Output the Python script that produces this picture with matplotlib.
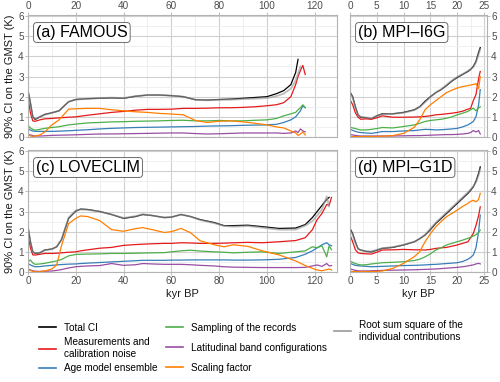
import numpy as np
import matplotlib
matplotlib.use('Agg')
import matplotlib.pyplot as plt
from matplotlib.lines import Line2D
from matplotlib.ticker import MultipleLocator

plt.rcParams['font.family'] = ['Liberation Sans', 'DejaVu Sans']

nan = np.nan

# series names and colours (legend order)
labels = ['Total CI', 'Measurements and\ncalibration noise', 'Age model ensemble',
          'Sampling of the records', 'Latitudinal band configurations', 'Scaling factor',
          'Root sum square of the\nindividual contributions']
colors = ['black', '#E41A1C', '#377EB8', '#4DAF4A', '#984EA3', '#FF7F00', '#999999']

# (a) FAMOUS
fam_x = [0, 1, 2, 3, 5, 7, 10, 13, 17, 20, 25, 30, 35, 40, 45, 50, 55, 60, 65, 70, 75, 80, 85, 90,
         95, 100, 104, 107, 110, 112, 113, 114, 115, 116]
fam_total = [2.3, 1.7, 1.0, 0.87, 1.0, 1.12, 1.2, 1.3, 1.75, 1.86, 1.9, 1.92, 1.94, 1.92, 2.02, 2.08, 2.08,
             2.05, 2.0, 1.85, 1.83, 1.86, 1.88, 1.92, 1.96, 2.0, 2.15, 2.3, 2.6, 3.2, 3.85, nan, nan, nan]
fam_meas = [1.95, 1.2, 0.8, 0.78, 0.85, 0.9, 0.92, 0.95, 0.98, 1.0, 1.08, 1.15, 1.22, 1.27, 1.33, 1.37, 1.37,
            1.38, 1.42, 1.42, 1.43, 1.45, 1.45, 1.47, 1.5, 1.55, 1.6, 1.7, 2.0, 2.6, 3.0, 3.3, 3.55, 3.1]
fam_age = [0.42, 0.34, 0.3, 0.28, 0.28, 0.28, 0.28, 0.29, 0.31, 0.33, 0.36, 0.4, 0.43, 0.45, 0.47, 0.48, 0.49,
           0.5, 0.51, 0.52, 0.54, 0.55, 0.56, 0.58, 0.59, 0.6, 0.63, 0.72, 0.85, 1.0, 1.15, 1.3, 1.55, 1.45]
fam_samp = [0.58, 0.45, 0.38, 0.34, 0.38, 0.43, 0.47, 0.51, 0.6, 0.64, 0.7, 0.72, 0.75, 0.76, 0.78, 0.79, 0.8,
            0.82, 0.83, 0.8, 0.8, 0.82, 0.8, 0.8, 0.83, 0.85, 0.92, 1.05, 1.15, 1.22, 1.35, 1.45, 1.6, 1.45]
fam_lat = [0.14, 0.1, 0.07, 0.05, 0.05, 0.06, 0.08, 0.09, 0.1, 0.11, 0.13, 0.15, 0.15, 0.16, 0.17, 0.18, 0.19,
           0.2, 0.2, 0.17, 0.15, 0.16, 0.18, 0.2, 0.2, 0.2, 0.2, 0.18, 0.2, 0.3, 0.22, 0.4, 0.3, 0.25]
fam_scal = [0.15, 0.05, 0.03, 0.05, 0.1, 0.25, 0.6, 0.85, 1.38, 1.4, 1.42, 1.42, 1.35, 1.3, 1.25, 1.22, 1.17,
            1.14, 1.1, 0.82, 0.72, 0.78, 0.8, 0.75, 0.68, 0.6, 0.5, 0.45, 0.3, 0.2, 0.08, 0.15, 0.25, 0.1]
fam_rss = [2.25, 1.65, 1.0, 0.9, 1.0, 1.1, 1.2, 1.3, 1.75, 1.85, 1.9, 1.93, 1.95, 1.93, 2.03, 2.08, 2.08,
           2.05, 2.0, 1.85, 1.82, 1.84, 1.85, 1.88, 1.9, 1.93, 2.03, 2.15, 2.4, 2.8, 3.15, 3.5, nan, nan]

# (c) LOVECLIM
lov_x = [0, 1, 2, 3, 5, 7, 10, 12, 14, 17, 20, 22, 25, 30, 35, 40, 45, 48, 52, 57, 60, 64, 68, 72, 78, 82,
         86, 92, 98, 105, 112, 116, 119, 121, 123, 125, 126, 127]
lov_total = [2.24, 1.5, 1.0, 0.92, 0.95, 1.09, 1.14, 1.25, 1.6, 2.66, 3.02, 3.12, 3.1, 3.0, 2.85, 2.66, 2.75,
             2.85, 2.8, 2.7, 2.72, 2.85, 2.75, 2.6, 2.45, 2.3, 2.3, 2.32, 2.25, 2.16, 2.18, 2.35, 2.7, 3.0,
             3.3, 3.6, 3.7, nan]
lov_meas = [1.85, 1.2, 0.85, 0.84, 0.88, 0.92, 0.92, 0.93, 0.95, 0.98, 1.0, 1.05, 1.1, 1.18, 1.22, 1.32, 1.36,
            1.38, 1.4, 1.42, 1.42, 1.45, 1.44, 1.42, 1.42, 1.43, 1.45, 1.47, 1.45, 1.5, 1.56, 1.7, 2.1, 2.6,
            2.9, 3.35, 3.3, 3.7]
lov_age = [0.42, 0.35, 0.3, 0.26, 0.27, 0.3, 0.33, 0.35, 0.37, 0.39, 0.4, 0.42, 0.44, 0.47, 0.5, 0.53, 0.56,
           0.58, 0.58, 0.58, 0.59, 0.59, 0.6, 0.6, 0.6, 0.6, 0.59, 0.59, 0.6, 0.63, 0.72, 0.88, 1.05, 1.2,
           1.35, 1.45, 1.35, 1.3]
lov_samp = [0.5, 0.6, 0.45, 0.38, 0.4, 0.43, 0.5, 0.55, 0.62, 0.8, 0.87, 0.88, 0.89, 0.9, 0.92, 0.92, 0.93,
            0.94, 0.95, 0.96, 1.0, 1.05, 1.08, 1.04, 1.0, 0.98, 0.95, 0.98, 1.0, 0.92, 1.0, 1.05, 1.25, 1.2,
            1.3, 0.75, 1.3, 1.1]
lov_lat = [0.15, 0.1, 0.06, 0.04, 0.03, 0.04, 0.05, 0.08, 0.12, 0.2, 0.26, 0.28, 0.3, 0.32, 0.42, 0.33, 0.36,
           0.42, 0.4, 0.38, 0.38, 0.38, 0.36, 0.33, 0.3, 0.26, 0.24, 0.23, 0.22, 0.22, 0.22, 0.23, 0.3, 0.35,
           0.28, 0.42, 0.3, 0.32]
lov_scal = [0.12, 0.08, 0.03, 0.0, 0.02, 0.05, 0.15, 0.35, 1.3, 2.4, 2.66, 2.78, 2.75, 2.55, 2.1, 2.02, 2.15,
            2.2, 2.1, 1.96, 2.0, 2.16, 1.95, 1.55, 1.35, 1.25, 1.35, 1.27, 1.05, 0.85, 0.55, 0.32, 0.18, 0.1,
            0.06, 0.12, 0.15, 0.1]
lov_rss = [2.2, 1.5, 1.0, 0.93, 0.96, 1.08, 1.13, 1.25, 1.6, 2.7, 3.05, 3.1, 3.08, 3.0, 2.85, 2.68, 2.77,
           2.87, 2.8, 2.7, 2.72, 2.85, 2.75, 2.58, 2.42, 2.28, 2.25, 2.28, 2.2, 2.1, 2.1, 2.3, 2.52, 2.8,
           3.1, 3.75, 3.25, nan]

# (b) MPI-I6G and (d) MPI-G1D
mpi_x = [0, 0.5, 1, 1.5, 2, 3, 4, 5, 6, 8, 10, 12, 13, 14, 15, 16, 17, 18, 19, 20, 21, 22, 22.5, 23, 23.5,
         24, 24.3]
i6g_total = [2.23, 2.0, 1.5, 1.1, 0.98, 0.95, 0.9, 1.05, 1.15, 1.15, 1.22, 1.35, 1.5, 1.77, 2.0, 2.2, 2.35,
             2.55, 2.77, 2.95, 3.1, 3.25, 3.35, 3.5, 3.75, 4.2, 4.43]
i6g_meas = [1.85, 1.6, 1.2, 0.98, 0.88, 0.9, 0.88, 0.95, 1.05, 0.98, 0.98, 0.99, 1.0, 1.02, 1.05, 1.1, 1.12,
            1.15, 1.18, 1.22, 1.28, 1.38, 1.42, 1.8, 2.1, 2.9, 3.25]
i6g_age = [0.38, 0.33, 0.28, 0.24, 0.22, 0.2, 0.18, 0.22, 0.27, 0.27, 0.3, 0.32, 0.35, 0.38, 0.37, 0.35, 0.36,
           0.38, 0.4, 0.43, 0.5, 0.6, 0.68, 0.77, 1.0, 1.6, 2.35]
i6g_samp = [0.48, 0.45, 0.42, 0.38, 0.35, 0.35, 0.38, 0.42, 0.47, 0.45, 0.52, 0.6, 0.68, 0.77, 0.82, 0.85,
            0.88, 0.93, 1.0, 1.1, 1.18, 1.27, 1.35, 1.43, 1.3, 1.45, 1.5]
i6g_lat = [0.13, 0.1, 0.08, 0.06, 0.05, 0.05, 0.05, 0.05, 0.05, 0.05, 0.06, 0.07, 0.07, 0.08, 0.09, 0.1, 0.11,
           0.12, 0.12, 0.13, 0.15, 0.18, 0.22, 0.32, 0.25, 0.32, 0.15]
i6g_scal = [0.02, 0.02, 0.02, 0.02, 0.02, 0.02, 0.02, 0.03, 0.04, 0.07, 0.18, 0.48, 0.85, 1.35, 1.6, 1.8, 2.0,
            2.2, 2.32, 2.43, 2.5, 2.55, 2.58, 2.6, 2.65, 2.4, 3.0]
i6g_rss = [2.2, 1.95, 1.45, 1.1, 1.0, 0.97, 0.93, 1.05, 1.13, 1.15, 1.2, 1.33, 1.48, 1.72, 1.98, 2.2, 2.37,
           2.58, 2.8, 2.98, 3.12, 3.28, 3.38, 3.45, 3.7, 4.1, 4.35]

g1d_total = [2.16, 1.9, 1.5, 1.15, 1.09, 1.02, 1.0, 1.08, 1.17, 1.22, 1.34, 1.5, 1.65, 1.83, 2.1, 2.41, 2.65,
             2.9, 3.15, 3.4, 3.65, 3.9, 4.05, 4.22, 4.5, 4.9, 5.21]
g1d_meas = [1.83, 1.5, 1.1, 0.95, 0.92, 0.9, 0.89, 0.98, 1.09, 1.1, 1.12, 1.1, 1.1, 1.09, 1.12, 1.17, 1.2,
            1.22, 1.28, 1.34, 1.42, 1.5, 1.7, 1.91, 2.3, 2.8, 3.23]
g1d_age = [0.43, 0.38, 0.33, 0.31, 0.3, 0.28, 0.26, 0.27, 0.28, 0.3, 0.32, 0.33, 0.34, 0.35, 0.37, 0.38, 0.4,
           0.42, 0.44, 0.46, 0.52, 0.63, 0.72, 0.84, 1.2, 2.0, 2.82]
g1d_samp = [0.54, 0.48, 0.42, 0.38, 0.35, 0.36, 0.4, 0.43, 0.46, 0.48, 0.51, 0.57, 0.63, 0.75, 0.9, 1.09, 1.2,
            1.34, 1.42, 1.5, 1.58, 1.67, 1.72, 1.78, 1.85, 1.95, 2.08]
g1d_lat = [0.15, 0.12, 0.08, 0.06, 0.05, 0.05, 0.06, 0.07, 0.08, 0.09, 0.1, 0.11, 0.12, 0.13, 0.14, 0.15, 0.17,
           0.19, 0.21, 0.23, 0.26, 0.3, 0.33, 0.35, 0.4, 0.43, 0.4]
g1d_scal = [0.03, 0.02, 0.02, 0.02, 0.02, 0.02, 0.02, 0.03, 0.05, 0.18, 0.43, 0.76, 1.0, 1.5, 1.9, 2.24, 2.5,
            2.74, 2.9, 3.07, 3.25, 3.4, 3.5, 3.56, 3.48, 3.6, 3.9]
g1d_rss = [2.1, 1.85, 1.45, 1.15, 1.08, 1.03, 1.02, 1.1, 1.18, 1.24, 1.35, 1.5, 1.65, 1.85, 2.15, 2.45, 2.7,
           2.95, 3.2, 3.45, 3.7, 3.95, 4.1, 4.25, 4.45, 4.8, 5.1]

panels = [
    ('(a) FAMOUS', fam_x, [fam_total, fam_meas, fam_age, fam_samp, fam_lat, fam_scal, fam_rss]),
    ('(b) MPI–I6G', mpi_x, [i6g_total, i6g_meas, i6g_age, i6g_samp, i6g_lat, i6g_scal, i6g_rss]),
    ('(c) LOVECLIM', lov_x, [lov_total, lov_meas, lov_age, lov_samp, lov_lat, lov_scal, lov_rss]),
    ('(d) MPI–G1D', mpi_x, [g1d_total, g1d_meas, g1d_age, g1d_samp, g1d_lat, g1d_scal, g1d_rss]),
]

fig = plt.figure(figsize=(5, 3.82), dpi=100)
W, H = 500, 382
lefts = [(28, 337), (350, 487)]
rows = [(15, 137), (150, 272)]

tick_col = '#4D4D4D'
edge_col = '#B3B3B3'

for i, (title, x, series) in enumerate(panels):
    r, c = divmod(i, 2)
    x0, x1 = lefts[c]
    y0, y1 = rows[r]
    ax = fig.add_axes([x0 / W, 1 - y1 / H, (x1 - x0) / W, (y1 - y0) / H])
    for k, y in enumerate(series):
        if k == 6:
            ax.plot(x, y, color=colors[k], lw=1.3, alpha=0.65, zorder=3)
        else:
            ax.plot(x, y, color=colors[k], lw=0.9, zorder=2)

    if c == 0:
        ax.set_xlim(0, 129.3)
        ax.xaxis.set_major_locator(MultipleLocator(20))
        ax.xaxis.set_minor_locator(MultipleLocator(10))
    else:
        ax.set_xlim(0, 25.56)
        ax.xaxis.set_major_locator(MultipleLocator(5))
        ax.xaxis.set_minor_locator(MultipleLocator(2.5))
    ax.set_ylim(0, 6.05)
    ax.yaxis.set_major_locator(MultipleLocator(1))
    ax.yaxis.set_minor_locator(MultipleLocator(0.5))

    ax.grid(which='major', color='#D0D0D0', lw=0.8, zorder=0)
    ax.grid(which='minor', color='#EDEDED', lw=0.6, zorder=0)
    ax.set_axisbelow(True)
    for s in ax.spines.values():
        s.set_color(edge_col)
        s.set_linewidth(0.8)

    ax.tick_params(which='both', labelsize=7.2, colors=edge_col, labelcolor=tick_col, length=2, width=0.6, pad=1)
    ax.tick_params(which='minor', length=0)
    if r == 0:
        ax.xaxis.tick_top()
    else:
        ax.set_xlabel('kyr BP', fontsize=8, color='#1A1A1A', labelpad=2)
    if c == 1:
        ax.yaxis.tick_right()
    else:
        ax.set_ylabel('90% CI on the GMST (K)', fontsize=8, color='#1A1A1A', labelpad=2)

    ax.annotate(title, xy=(0, 1), xycoords='axes fraction', xytext=(8, -10), textcoords='offset pixels',
                ha='left', va='top', fontsize=11.5, color='black', zorder=5,
                bbox=dict(boxstyle='round,pad=0.15,rounding_size=0.2', fc='white', ec='#555555', lw=0.6))

handles = [Line2D([], [], color=colors[k], lw=1.2) for k in range(7)]
cols = [([0, 1, 2], 0.078, 0.155), ([3, 4, 5], 0.332, 0.155), ([6], 0.668, 0.162)]
for idx, xa, ya in cols:
    fig.legend([handles[k] for k in idx], [labels[k] for k in idx], loc='upper left',
               bbox_to_anchor=(xa, ya), frameon=False, fontsize=7.2, handlelength=1.7,
               handletextpad=0.8, labelspacing=0.45 if idx[0] == 0 else 1.0, borderpad=0,
               borderaxespad=0)

fig.savefig('out.png', dpi=100)
